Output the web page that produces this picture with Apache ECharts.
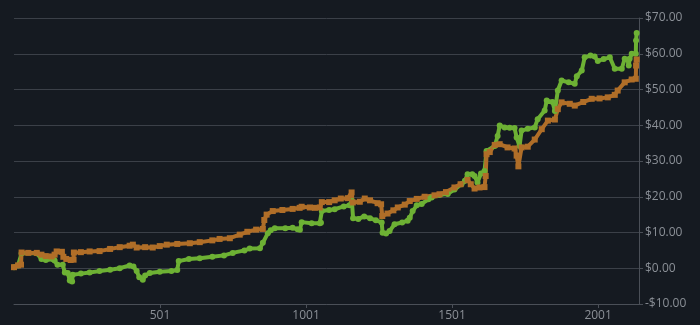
<!DOCTYPE html>
<html><head><meta charset="utf-8">
<script src="https://cdn.jsdelivr.net/npm/echarts@6/dist/echarts.min.js"></script>
<style>html,body{margin:0;padding:0;background:#151a21;}#c{width:700px;height:325px;}</style>
</head><body><div id="c"></div>
<script>
// Trade index (x) and cumulative P&L (y)
const orangeIdx = [1,15,25,27,50,79,95,110,130,140,147,165,170,180,195,205,206,230,260,294,330,363,397,408,421,450,476,500,524,560,603,637,680,705,740,774,800,830,853,858,866,887,920,955,979,986,1014,1031,1048,1055,1080,1099,1120,1144,1157,1161,1185,1202,1220,1246,1258,1262,1280,1300,1315,1339,1356,1380,1407,1441,1458,1480,1509,1530,1554,1565,1578,1595,1612,1616,1619,1630,1647,1664,1691,1715,1722,1728,1739,1760,1784,1808,1829,1853,1863,1876,1904,1921,1950,1979,2006,2034,2058,2068,2092,2116,2130,2131,2133];
const orangeVal = [0.3,0.8,1.0,4.4,4.3,4.3,3.8,3.4,3.3,3.8,4.7,4.6,3.2,2.6,2.3,2.4,4.4,4.5,4.7,4.8,5.4,5.9,6.3,6.6,5.8,5.9,5.8,6.2,6.6,6.8,7.0,7.3,7.8,8.2,8.4,9.4,10.2,10.8,11.0,13.5,15.0,16.0,16.3,16.6,16.9,17.2,17.0,16.9,17.0,18.5,18.5,19.0,19.5,19.6,21.2,18.4,18.6,19.5,19.0,18.2,17.9,14.6,15.3,16.2,17.0,17.8,18.8,19.4,20.0,20.4,20.7,21.3,22.6,23.5,24.7,23.5,22.3,22.6,22.7,25.8,31.9,32.5,34.5,34.7,33.8,33.5,31.5,28.5,33.8,34.0,36.0,38.9,41.3,41.6,44.5,46.4,46.0,45.5,46.5,47.4,47.5,47.8,48.5,49.7,52.0,52.8,53.0,56.7,58.4];
const greenIdx = [1,15,27,79,95,110,135,140,150,168,175,185,192,200,202,230,260,294,330,363,397,410,421,430,442,450,466,500,540,560,565,600,637,680,720,750,790,808,843,853,870,880,894,930,955,972,980,986,1020,1048,1052,1055,1080,1099,1130,1150,1158,1162,1180,1200,1220,1240,1260,1263,1275,1287,1304,1330,1349,1356,1366,1380,1397,1420,1431,1458,1486,1509,1533,1545,1554,1570,1578,1588,1600,1612,1619,1647,1657,1664,1681,1698,1715,1722,1732,1739,1760,1784,1794,1818,1825,1845,1853,1863,1876,1900,1921,1928,1945,1955,1975,1989,2000,2020,2041,2058,2082,2092,2102,2106,2109,2116,2130,2131,2133];
const greenVal = [0.3,0.8,4.2,4.2,2.6,2.3,2.5,2.2,1.0,1.0,-1.2,-1.3,-3.4,-3.7,-1.8,-1.5,-1.2,-0.8,-0.4,0.0,0.8,0.5,-0.8,-2.5,-3.2,-2.0,-1.3,-1.0,-0.8,-0.5,2.0,2.6,2.8,3.2,3.6,4.3,5.0,5.5,5.6,7.1,9.8,10.6,11.2,11.2,11.3,10.9,10.8,12.9,12.6,12.6,12.7,16.0,16.3,16.5,17.3,17.6,18.8,14.0,13.8,14.5,14.0,13.4,12.8,9.9,9.7,10.4,12.3,12.8,13.3,14.1,16.0,17.6,18.0,19.3,19.8,20.5,20.8,22.0,23.5,24.5,26.3,26.3,25.8,24.0,26.5,27.2,32.8,34.2,37.0,39.9,39.4,39.3,39.2,36.6,34.2,38.5,39.0,39.4,41.7,44.1,46.9,46.5,44.0,49.7,52.5,52.0,51.6,53.7,55.3,59.0,59.5,59.2,58.0,58.5,59.0,55.8,55.8,58.6,58.3,56.7,58.6,60.0,60.0,63.7,65.8];
const xTickLabels = ['501','1001','1501','2001'];
const yMin = -10, yMax = 70, yStep = 10;
const xCount = 2141;

const pairs = (xs, ys) => xs.map((x, i) => [x - 1, ys[i]]);
const labelColor = '#8b9097';
const axisColor = '#4a4f57';
const chart = echarts.init(document.getElementById('c'), null, {renderer: 'canvas'});
chart.setOption({
  backgroundColor: '#151a21',
  animation: false,
  grid: {left: 14, right: 61, top: 18, bottom: 21, containLabel: false},
  xAxis: {
    type: 'value', min: 0, max: xCount - 1, interval: 500,
    axisLine: {show: true, onZero: false, lineStyle: {color: axisColor, width: 1}},
    axisTick: {show: true, length: 4, lineStyle: {color: axisColor}},
    splitLine: {show: false},
    axisLabel: {
      showMinLabel: false, showMaxLabel: false, margin: 6,
      color: labelColor, fontFamily: 'Open Sans', fontSize: 12,
      formatter: v => xTickLabels.includes(String(v + 1)) ? String(v + 1) : ''
    }
  },
  yAxis: {
    type: 'value', position: 'right', min: yMin, max: yMax, interval: yStep,
    axisLine: {show: true, onZero: false, lineStyle: {color: axisColor, width: 1}},
    axisTick: {show: true, length: 4, lineStyle: {color: axisColor}},
    splitLine: {show: true, lineStyle: {color: '#3b4048', width: 1}},
    axisLabel: {
      margin: 6, color: labelColor, fontFamily: 'Open Sans', fontSize: 12,
      formatter: v => (v < 0 ? '-$' : '$') + Math.abs(v).toFixed(2)
    }
  },
  series: [
    {
      type: 'line', data: pairs(greenIdx, greenVal),
      symbol: 'circle', symbolSize: 6, showAllSymbol: true,
      lineStyle: {color: '#6db134', width: 4},
      itemStyle: {color: '#6db134', borderWidth: 0}
    },
    {
      type: 'line', data: pairs(orangeIdx, orangeVal),
      symbol: 'rect', symbolSize: 6, showAllSymbol: true,
      lineStyle: {color: '#b06e28', width: 4},
      itemStyle: {color: '#b06e28', borderWidth: 0}
    }
  ]
});
</script></body></html>
